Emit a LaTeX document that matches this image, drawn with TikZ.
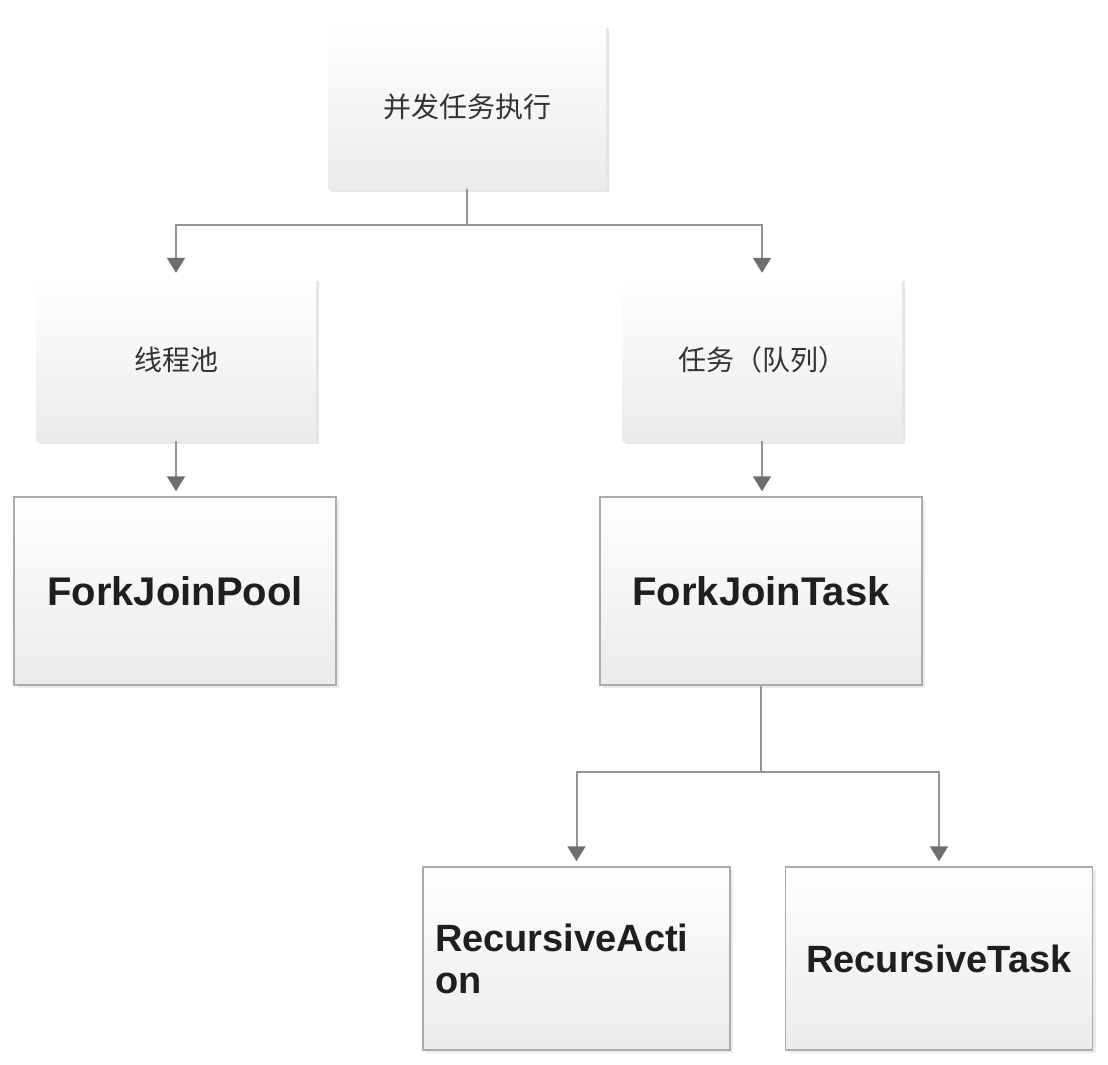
\documentclass[tikz,border=0pt]{standalone}
\usepackage{fontspec}
\newfontfamily\cjk{Noto Sans CJK SC}
\newfontfamily\en{Liberation Sans}
\usetikzlibrary{arrows.meta,shadows}
\definecolor{linegray}{HTML}{959595}
\definecolor{tipgray}{HTML}{6E6E6E}
\definecolor{boxline}{HTML}{ABABAB}
\definecolor{txtgray}{HTML}{333333}
\definecolor{shadegray}{HTML}{EBEBEB}
\tikzset{
  x=1pt,y=1pt,
  softbox/.style={rectangle, top color=white, bottom color=shadegray, draw=none,
    drop shadow={shadow xshift=3pt, shadow yshift=-3pt, fill=black!10, opacity=1},
    text=txtgray, font=\cjk\fontsize{28}{34}\selectfont, inner sep=0pt},
  classbox/.style={rectangle, top color=white, bottom color=shadegray, draw=boxline, line width=1.5pt,
    drop shadow={shadow xshift=3pt, shadow yshift=-3pt, fill=black!8, opacity=1},
    text=black!88, inner sep=0pt},
  conn/.style={draw=linegray, line width=2pt, shorten >=5pt,
    -{Triangle[width=18pt,length=15pt,fill=tipgray,color=tipgray]}},
  connplain/.style={draw=linegray, line width=2pt}
}
\begin{document}
\begin{tikzpicture}
\useasboundingbox (0,0) rectangle (1108,-1065);
\node[softbox, minimum width=278pt, minimum height=164pt] (top) at (467,-107) {并发任务执行};
\node[softbox, minimum width=280pt, minimum height=163pt] (pool) at (176,-359.5) {线程池};
\node[softbox, minimum width=280pt, minimum height=163pt] (task) at (762,-359.5) {任务（队列）};
\node[classbox, minimum width=322pt, minimum height=188pt, font=\en\bfseries\fontsize{40}{46}\selectfont] (fjp) at (175,-591) {ForkJoinPool};
\node[classbox, minimum width=322pt, minimum height=188pt, font=\en\bfseries\fontsize{40}{46}\selectfont] (fjt) at (761,-591) {ForkJoinTask};
\node[classbox, minimum width=307pt, minimum height=183pt, text width=283pt, inner xsep=12pt, align=left, font=\en\bfseries\fontsize{38}{42}\selectfont] (ra) at (576.5,-958.5) {RecursiveActi\\on};
\node[classbox, minimum width=307pt, minimum height=183pt, font=\en\bfseries\fontsize{38}{44}\selectfont] (rt) at (939,-958.5) {RecursiveTask};
\coordinate (j1) at (467,-225);
\coordinate (j2) at (761,-772);
\draw[connplain] (top.south) -- (j1);
\draw[conn] (j1) -| (pool.north);
\draw[conn] (j1) -| (task.north);
\draw[conn] (pool.south) -- (fjp.north -| pool.south);
\draw[conn] (task.south) -- (fjt.north -| task.south);
\draw[connplain] (fjt.south) -- (j2);
\draw[conn] (j2) -| (ra.north);
\draw[conn] (j2) -| (rt.north);
\end{tikzpicture}
\end{document}
